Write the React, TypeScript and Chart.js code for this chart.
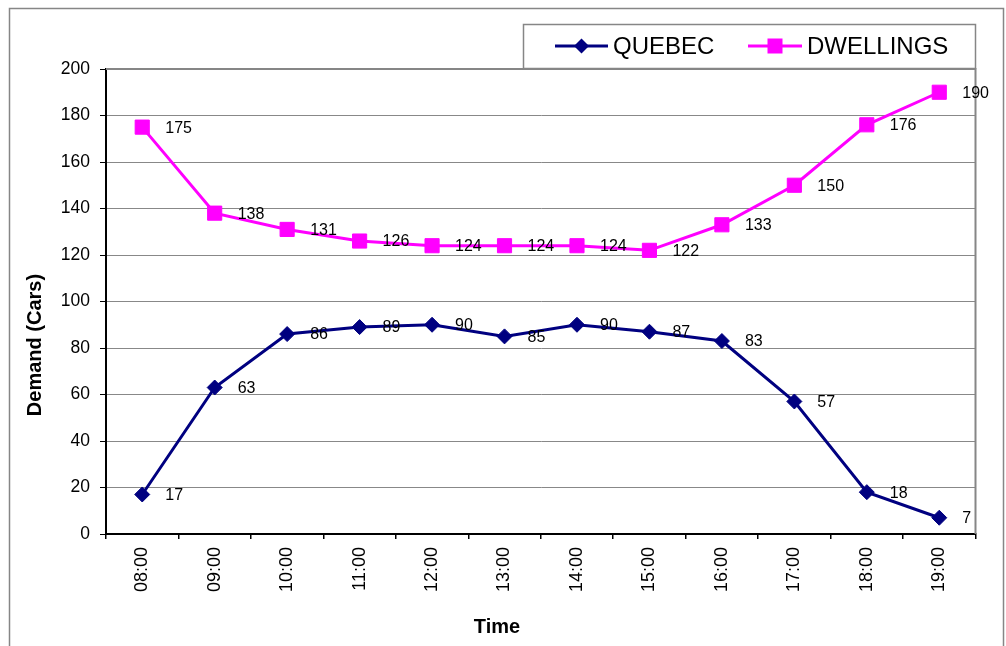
import React, { useEffect, useRef } from 'react';
import { Chart, registerables } from 'chart.js';

Chart.register(...registerables);

// Hourly parking demand, by site
const times = ['08:00', '09:00', '10:00', '11:00', '12:00', '13:00', '14:00', '15:00', '16:00', '17:00', '18:00', '19:00'];
const quebec = [17, 63, 86, 89, 90, 85, 90, 87, 83, 57, 18, 7];
const dwellings = [175, 138, 131, 126, 124, 124, 124, 122, 133, 150, 176, 190];
const seriesNames = ['QUEBEC', 'DWELLINGS'];

const yMin = 0;
const yMax = 200;
const yStep = 20;

const FONT = "'Liberation Sans', Arial, sans-serif";
const NAVY = '#000080';
const MAGENTA = '#FF00FF';
const FRAME = '#868686';

function diamond(ctx: CanvasRenderingContext2D, x: number, y: number, r: number) {
  ctx.beginPath();
  ctx.moveTo(x - r, y);
  ctx.lineTo(x, y - r);
  ctx.lineTo(x + r, y);
  ctx.lineTo(x, y + r);
  ctx.closePath();
  ctx.fill();
}

// Frame, plot border, legend, axis titles and value labels
const decorations = {
  id: 'decorations',
  beforeDraw(chart: any) {
    const ctx = chart.ctx as CanvasRenderingContext2D;
    ctx.save();
    ctx.fillStyle = '#fff';
    ctx.fillRect(0, 0, chart.width, chart.height);
    ctx.strokeStyle = FRAME;
    ctx.lineWidth = 1.5;
    ctx.beginPath();
    ctx.moveTo(9.5, chart.height + 2);
    ctx.lineTo(9.5, 8.5);
    ctx.lineTo(1003.5, 8.5);
    ctx.lineTo(1003.5, chart.height + 2);
    ctx.stroke();
    ctx.restore();
  },
  afterDatasetsDraw(chart: any) {
    const ctx = chart.ctx as CanvasRenderingContext2D;
    const { chartArea } = chart;
    ctx.save();

    // plot area top and right edges
    ctx.strokeStyle = FRAME;
    ctx.lineWidth = 2;
    ctx.beginPath();
    ctx.moveTo(chartArea.left, chartArea.top);
    ctx.lineTo(chartArea.right, chartArea.top);
    ctx.lineTo(chartArea.right, chartArea.bottom);
    ctx.stroke();

    // value labels
    ctx.fillStyle = '#000';
    ctx.font = `16px ${FONT}`;
    ctx.textAlign = 'left';
    ctx.textBaseline = 'middle';
    chart.data.datasets.forEach((ds: any, i: number) => {
      const meta = chart.getDatasetMeta(i);
      meta.data.forEach((pt: any, j: number) => {
        ctx.fillText(String(ds.data[j]), pt.x + 23, pt.y + 1);
      });
    });

    // legend
    ctx.strokeStyle = FRAME;
    ctx.lineWidth = 1.5;
    ctx.strokeRect(523.5, 24.5, 452, 44);
    const ly = 46;
    ctx.lineWidth = 3;
    ctx.strokeStyle = NAVY;
    ctx.beginPath();
    ctx.moveTo(555, ly);
    ctx.lineTo(608, ly);
    ctx.stroke();
    ctx.fillStyle = NAVY;
    diamond(ctx, 581.5, ly, 7.5);
    ctx.strokeStyle = MAGENTA;
    ctx.beginPath();
    ctx.moveTo(748, ly);
    ctx.lineTo(802, ly);
    ctx.stroke();
    ctx.fillStyle = MAGENTA;
    ctx.fillRect(775 - 7.5, ly - 7.5, 15, 15);
    ctx.fillStyle = '#000';
    ctx.font = `24px ${FONT}`;
    ctx.textBaseline = 'alphabetic';
    ctx.fillText(seriesNames[0], 613, 53.5);
    ctx.fillText(seriesNames[1], 807, 53.5);

    // axis titles
    ctx.font = `bold 20px ${FONT}`;
    ctx.textAlign = 'center';
    ctx.textBaseline = 'middle';
    ctx.fillText('Time', 497, 627);
    ctx.translate(35, 345);
    ctx.rotate(-Math.PI / 2);
    ctx.fillText('Demand (Cars)', 0, 0);
    ctx.restore();
  },
};

export default function App() {
  const ref = useRef<HTMLCanvasElement>(null);

  useEffect(() => {
    document.body.style.margin = '0';
    const canvas = ref.current;
    if (!canvas) return;
    const chart = new Chart(canvas, {
      type: 'line',
      data: {
        labels: times,
        datasets: [
          {
            label: seriesNames[0],
            data: quebec,
            borderColor: NAVY,
            backgroundColor: NAVY,
            borderWidth: 3,
            pointStyle: 'rectRot',
            pointRadius: 7.5,
            pointBorderWidth: 1,
            pointBackgroundColor: NAVY,
            pointBorderColor: NAVY,
            tension: 0,
          },
          {
            label: seriesNames[1],
            data: dwellings,
            borderColor: MAGENTA,
            backgroundColor: MAGENTA,
            borderWidth: 3,
            pointStyle: 'rect',
            pointRadius: 10,
            pointBorderWidth: 1,
            pointBackgroundColor: MAGENTA,
            pointBorderColor: MAGENTA,
            tension: 0,
          },
        ],
      },
      options: {
        animation: false,
        responsive: false,
        devicePixelRatio: 1,
        layout: { padding: { top: 69, right: 30.5, left: 0, bottom: 0 } },
        plugins: {
          legend: { display: false },
          title: { display: false },
          tooltip: { enabled: false },
        },
        scales: {
          x: {
            type: 'category',
            offset: true,
            grid: {
              offset: true,
              drawOnChartArea: false,
              drawTicks: true,
              tickLength: 5,
              color: '#000',
              tickColor: '#000',
              lineWidth: 1.5,
            },
            border: { display: true, color: '#000', width: 2 },
            ticks: {
              minRotation: 90,
              maxRotation: 90,
              padding: 8,
              color: '#000',
              font: { family: FONT, size: 18 },
            },
            afterFit(scale: any) {
              scale.height = 112;
            },
          },
          y: {
            min: yMin,
            max: yMax,
            grid: {
              color: '#888',
              lineWidth: 1,
              tickColor: '#000',
              tickLength: 6,
            },
            border: { display: true, color: '#000', width: 2 },
            ticks: {
              stepSize: yStep,
              padding: 10,
              color: '#000',
              font: { family: FONT, size: 17.5 },
            },
            afterFit(scale: any) {
              scale.width = 106;
            },
          },
        },
      },
      plugins: [decorations],
    });
    return () => chart.destroy();
  }, []);

  return (
    <div style={{ width: 1006, height: 646 }}>
      <canvas ref={ref} width={1006} height={646} style={{ display: 'block' }} />
    </div>
  );
}
